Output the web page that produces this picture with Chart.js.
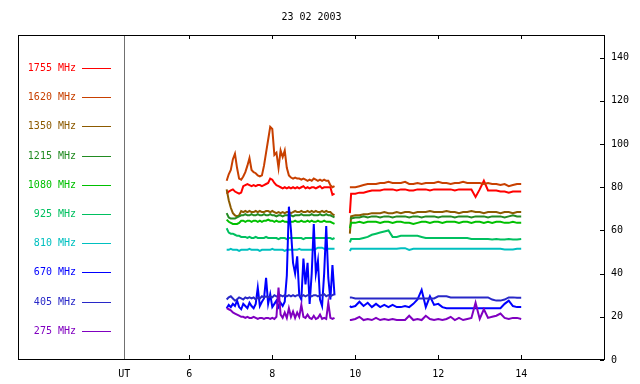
<!DOCTYPE html>
<html>
<head>
<meta charset="utf-8">
<script src="https://cdn.jsdelivr.net/npm/chart.js@4.4.1/dist/chart.umd.min.js"></script>
<style>
  html, body { margin: 0; padding: 0; background: #fff; }
</style>
</head>
<body>
<canvas id="radioChart" width="640" height="384"></canvas>
<script>
// Radio flux records, 23 02 2003
const chartTitle = "23 02 2003";
const utPos = 4.43;          // where the "UT" divider sits on the hour axis
const xMin = 1.87, xMax = 16.02;
const xTickValues = [6, 8, 10, 12, 14];
const yTickValues = [0, 20, 40, 60, 80, 100, 120, 140];
const yMax = 150.5;

const bandLabels = ["1755 MHz", "1620 MHz", "1350 MHz", "1215 MHz", "1080 MHz",
                    "925 MHz", "810 MHz", "670 MHz", "405 MHz", "275 MHz"];
const bandColors = ["#ff0000", "#c84000", "#8c5a00", "#228b22", "#00c000",
                    "#00c060", "#00c0c0", "#0000ff", "#2828c8", "#8000c0"];

// hours (UT) of the two observing segments
const hours1 = [6.90,6.95,7.00,7.05,7.10,7.15,7.20,7.25,7.30,7.35,7.40,7.45,7.50,7.55,7.60,7.65,7.70,7.75,
  7.80,7.85,7.90,7.95,8.00,8.05,8.10,8.15,8.20,8.25,8.30,8.35,8.40,8.45,8.50,8.55,8.60,8.65,8.70,8.75,
  8.80,8.85,8.90,8.95,9.00,9.05,9.10,9.15,9.20,9.25,9.30,9.35,9.40,9.45,9.50];
const gapHour = 9.7;
const hours2 = [9.87,9.9,10.0,10.1,10.2,10.3,10.4,10.5,10.6,10.7,10.8,10.9,11.0,11.1,11.2,11.3,11.4,11.5,
  11.6,11.7,11.8,11.9,12.0,12.1,12.2,12.3,12.4,12.5,12.6,12.7,12.8,12.9,13.0,13.1,13.2,13.3,13.4,13.5,
  13.6,13.7,13.8,13.9,14.0];

const f1755a = [77,78,78.5,79,78,77.5,77,77.5,80.5,81, 81.5,81,80.5,81,80.5,81,81,80.5,81,81.5,
  82,84,83.5,82,81,80.5,80,79.5,80,79.5, 80,79.5,80,79.5,80,79.5,80,80.5,79.5,80,
  79.5,80,80,79.5,80,80.5,79.5,80,80,80, 80,76.5,77];
const f1755b = [68, 77,77,77.5,77.5,78,78.5,78.5,78.5,79,79, 79,78.5,79,79,78.5,78.5,79,79,79,78.5,
  79,79,79,79,79,78.5,79,79,79,79, 75.5,79,83,78.5,78.5,78.5,78,78,77.5,78, 78,78];

const f1620a = [83,86,88,93,95.5,89,84,83.5,85,87, 90,93.5,88,87,86.5,85.5,85,85.5,90,96,
  102,108,107,95,96,89,97,94,97,89, 85.5,84.5,84,84.5,84,84,83.5,84,83.5,83,
  83.5,83,84,83.5,83,83.5,83,83.5,83,83, 81,80,80.5];
const f1620b = [80, 80,80,80.5,81,81.5,81.5,81.5,82,82,82.5, 82,82,82,82.5,81.5,81.5,82,81.5,82,82,
  82,82.5,82,82,81.5,82,82,82.5,82,82, 82,82,81.5,82,81.5,81.5,81,81.5,80.5,81, 81.5,81.5];

const f1350a = [79,74,70.5,68,67,66.5,67,69,68.5,69, 68.5,69,68.5,68.5,69,68.5,69,68.5,68.5,69,
  69,68.5,69,68.5,68,68.5,68,68.5,68,68.5, 68.5,68,68.5,69,68.5,68.5,69,68.5,68.5,69,
  68.5,69,68.5,69,68.5,68.5,69,68.5,69,68.5, 68.5,67.5,67];
const f1350b = [58.5, 66.5,67,67,67.5,67.5,68,68,68,68.5,68, 68,68.5,68,68.5,68.5,68,68.5,68.5,68.5,69,
  68.5,68.5,68.5,69,68.5,68.5,68,68.5,68.5,69, 68.5,68.5,68,68.5,68.5,68.5,68,68.5,68.5,68, 68.5,68.5];

const f1215a = [68,66,65.5,65.5,65.5,66,66.5,67,67,67.5, 67,67,67.5,67,67,67.5,67,67,67.5,67,
  67,67.5,67,67,66.5,67,67,66.5,67,67, 67,67,66.5,67,67,67,67.5,67,67,67,
  67,67.5,67,67,67,67.5,67,67,67.5,67, 67,66.5,66];
const f1215b = [65.5, 65.5,66,66,66.5,66,66.5,66.5,66,66.5,66.5, 66,66.5,66.5,66.5,66,66.5,66.5,66,66.5,66.5,
  66.5,66,66.5,66.5,66.5,66,66.5,66.5,66.5,66, 66.5,66.5,66.5,66,66.5,66.5,66.5,66,66.5,67, 66.5,66.5];

const f1080a = [65,64,63.5,63,63,63,63.5,64.5,64.5,64, 64.5,64.5,64,64.5,64.5,64,64.5,64,64.5,64.5,
  65,64.5,64.5,64,64.5,64,64,64.5,64,64, 63.5,64,64,64.5,64,64,64.5,64,64,64.5,
  64,64.5,64,64,64.5,64,64,64.5,64,64, 64,63.5,63];
const f1080b = [61, 63.5,63.5,64,63.5,64,64,64,63.5,64,64, 63.5,64,64,63.5,63.5,63,63.5,64,64,63.5,
  64,64,63.5,64,64,64,63.5,64,64,63.5, 64,64,63.5,64,63.5,64,64,63.5,63.5,64, 63.5,63.5];

const f925a = [61,59,58.5,58.5,58,57.5,57.5,57,57,57, 56.5,57,56.5,56.5,57,56.5,56.5,56.5,56.5,57,
  56.5,56.5,56.5,56.5,56.5,56,56.5,56.5,56.5,56, 56.5,56.5,56.5,56.5,56.5,56.5,56.5,56,56.5,56.5,
  56.5,56.5,56.5,56.5,56.5,56.5,56.5,56.5,56.5,56.5, 56.5,56,56.5];
const f925b = [54.5, 56,56,56,56.5,57,58,58.5,59,59.5,60, 57,57,57.5,57.5,57.5,57.5,57.5,57,56.5,56.5,
  56.5,56.5,56.5,56.5,56.5,56.5,56.5,56.5,56.5,56, 56,56,56,56,55.8,56,55.8,55.8,56,55.8, 55.8,56];

const f810a = [51,51,51.5,51,51,51,50.5,51,51,51, 51,51.5,51,51,51,51,50.5,51,51,51,
  51,51,51.5,51,51,51,51,51,50.5,51, 51,51,51,51,51,51.5,51,51,51,51,
  51,51,51,51.5,52,52,52,51.5,51.5,51.5, 51.5,51.5,51.5];
const f810b = [50.5, 51.5,51.5,51.5,51.5,51.5,51.5,51.5,51.5,51.5,51.5, 51.5,51.5,51.8,51.8,51,51.5,51.5,51.5,51.5,51.5,
  51.5,51.5,51.5,51.5,51.5,51.5,51.5,51.5,51.5,51.5, 51.5,51.5,51.5,51.5,51.5,51.5,51.5,51.2,51.2,51.2, 51.5,51.5];

const f670a = [24,25.5,24.5,26,25,27.5,24.5,23.5,26,25, 24,26.5,25,24,26,33.5,25,27,28.5,38,
  26,30.5,24.5,26,27.5,24.5,26.5,25,27,39, 71,60,45,40,48,30,28,47,35,45,
  26,40,63,40,46,28,25,40,62,38, 28,44,30];
const f670b = [25, 24.5,25,27,25,26.5,24.5,26,24.5,25.5,24.5, 25.5,24.5,24.5,25,24.5,26,28,32.5,24.5,29.5,
  25.5,26,24.5,24,24,24,24,24,24,24, 24,24,24,24,24,24,24,26,27.5,25, 24.5,24.5];

const f405a = [28,29,29.5,28.5,27.5,28,29,28.5,28,29, 28.5,29,28.5,29,28,29,28.5,29.5,29,29.5,
  29,29.5,29,30,29.5,29,30,29.5,30,29.5, 30,29.5,30,29.5,30,30,29.5,30,29.5,30,
  30,29.5,30,30,29.5,30,30,30.5,29.5,30, 29.5,30,30.5];
const f405b = [29, 29,28.5,28.5,28.5,28.5,28.5,28.5,28.5,28.5,28.5, 28.5,28.5,28.5,28.5,28.5,28.5,28.5,28.5,28.5,28.5,
  28.5,29.5,29.5,29.5,29,29,29,29,29,29, 29,29,29,29,28,27.5,27.5,28,29,29, 28.8,28.8];

const f275a = [24,23.5,23,22,21.5,21,20.5,20,20,19.5, 20,19.5,19.5,20,19.5,19,19.5,19.5,19,19.5,
  19.5,19,19.5,19,20,33.5,21,19.5,22,19.5, 24,20,22.5,19.5,22,20,25.5,20,19.5,21,
  19.5,19,20.5,19,19.5,21,19,19.5,19,26.5, 19.5,19,19.5];
const f275b = [18.5, 18.5,19,20,18.5,19,18.5,19.5,18.5,19,18.5, 19,18.5,18.5,18.5,20.5,18.5,19,18.5,20.5,19,
  18.5,19,18.5,19,20,18.5,19.5,18.5,19,19.5, 26.5,19,23.5,19.5,20,20.5,21.5,19.5,19,19.5, 19.5,19];

const seriesA = [f1755a, f1620a, f1350a, f1215a, f1080a, f925a, f810a, f670a, f405a, f275a];
const seriesB = [f1755b, f1620b, f1350b, f1215b, f1080b, f925b, f810b, f670b, f405b, f275b];

function toPoints(a, b) {
  const pts = hours1.map((h, i) => ({ x: h, y: a[i] }));
  pts.push({ x: gapHour, y: null });
  hours2.forEach((h, i) => pts.push({ x: h, y: b[i] }));
  return pts;
}

const FONT = "'DejaVu Sans Mono', monospace";

// frame, inward ticks, UT divider and the left-hand band key
const framePlugin = {
  id: "frame",
  afterDraw(chart) {
    const { ctx, chartArea: a, scales } = chart;
    const x = scales.x, y = scales.y;
    ctx.save();
    ctx.lineWidth = 1;

    ctx.strokeStyle = "#707070";
    const ux = Math.round(x.getPixelForValue(utPos)) + 0.5;
    ctx.beginPath();
    ctx.moveTo(ux, a.top); ctx.lineTo(ux, a.bottom);
    ctx.stroke();

    ctx.strokeStyle = "#000";
    ctx.strokeRect(a.left + 0.5, a.top + 0.5, a.right - a.left - 1, a.bottom - a.top - 1);

    ctx.beginPath();
    xTickValues.forEach(v => {
      const px = Math.round(x.getPixelForValue(v)) + 0.5;
      ctx.moveTo(px, a.bottom - 1); ctx.lineTo(px, a.bottom - 5);
      ctx.moveTo(px, a.top); ctx.lineTo(px, a.top + 4);
    });
    yTickValues.forEach(v => {
      const py = Math.round(y.getPixelForValue(v)) + 0.5;
      ctx.moveTo(a.right - 1, py); ctx.lineTo(a.right - 5, py);
    });
    ctx.stroke();

    // band key
    ctx.font = "10px " + FONT;
    ctx.textBaseline = "middle";
    ctx.textAlign = "right";
    chart.data.datasets.forEach((ds, i) => {
      const ly = Math.round(68 + i * 29.2);
      ctx.fillStyle = ds.borderColor;
      ctx.fillText(ds.label, 76, ly);
      ctx.strokeStyle = ds.borderColor;
      ctx.beginPath();
      ctx.moveTo(82, ly + 0.5); ctx.lineTo(111, ly + 0.5);
      ctx.stroke();
    });
    ctx.restore();
  }
};

new Chart(document.getElementById("radioChart"), {
  type: "line",
  data: {
    datasets: bandLabels.map((label, i) => ({
      label: label,
      data: toPoints(seriesA[i], seriesB[i]),
      borderColor: bandColors[i],
      borderWidth: 2,
      pointRadius: 0,
      tension: 0,
      spanGaps: false,
      order: bandLabels.length - i
    }))
  },
  options: {
    responsive: false,
    animation: false,
    devicePixelRatio: 1,
    layout: { padding: { left: 18, right: 0, top: 0, bottom: 0 } },
    plugins: {
      legend: { display: false },
      tooltip: { enabled: false },
      title: {
        display: true,
        text: chartTitle,
        fullSize: false,
        color: "#000",
        font: { family: FONT, size: 10, weight: "normal", lineHeight: 1.2 },
        padding: { top: 11, bottom: 12 }
      }
    },
    scales: {
      x: {
        type: "linear",
        min: xMin,
        max: xMax,
        grid: { display: false, drawTicks: false },
        border: { display: false },
        afterBuildTicks: scale => {
          scale.ticks = [utPos].concat(xTickValues).map(v => ({ value: v }));
        },
        afterFit: scale => { scale.height = 24; },
        ticks: {
          autoSkip: false,
          maxRotation: 0,
          padding: 8,
          color: "#000",
          font: { family: FONT, size: 10 },
          callback: v => (v === utPos ? "UT" : v)
        }
      },
      y: {
        position: "right",
        min: 0,
        max: yMax,
        grid: { display: false, drawTicks: false },
        border: { display: false },
        afterBuildTicks: scale => {
          scale.ticks = yTickValues.map(v => ({ value: v }));
        },
        afterFit: scale => { scale.width = 35; },
        ticks: {
          padding: 6,
          color: "#000",
          font: { family: FONT, size: 10 }
        }
      }
    }
  },
  plugins: [framePlugin]
});
</script>
</body>
</html>
